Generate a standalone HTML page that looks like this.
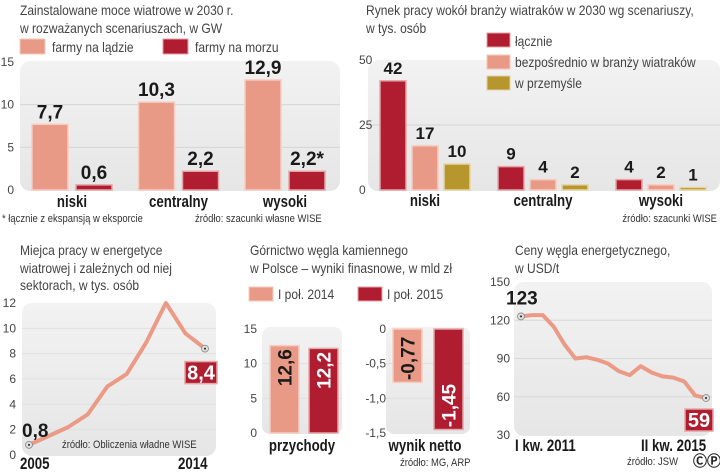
<!DOCTYPE html>
<html><head><meta charset="utf-8"><style>
body{margin:0;background:#fff;}
svg{display:block;font-family:"Liberation Sans Narrow","Liberation Sans",sans-serif;}
.t{font-size:14px;fill:#444;}
.tk{font-size:12px;fill:#444;}
.v{font-size:19px;font-weight:bold;fill:#1a1a1a;}
.c{font-size:17px;font-weight:bold;fill:#1a1a1a;}
.s{font-size:11px;fill:#333;}
</style></head><body>
<svg id="chart" width="720" height="472" viewBox="0 0 720 472" xmlns="http://www.w3.org/2000/svg">
<defs><linearGradient id="bg" x1="0" y1="0" x2="0" y2="1"><stop offset="0" stop-color="#f2f2f2"/><stop offset="1" stop-color="#e6e6e6"/></linearGradient></defs>
<g id="p1">
<text class="t" x="20" y="15">Zainstalowane moce wiatrowe  w 2030 r.</text>
<text class="t" x="20" y="33">w rozważanych scenariuszach, w GW</text>
<rect x="20" y="39" width="25" height="15" fill="#e99a86" stroke="#f5c8bc"/>
<text class="t" x="52" y="52">farmy na lądzie</text>
<rect x="163" y="39" width="25" height="15" fill="#b01c30" stroke="#e0a0a0"/>
<text class="t" x="195" y="52">farmy na morzu</text>
<rect x="20" y="61" width="320" height="130" rx="10" fill="url(#bg)"/>
<text class="s" x="2" y="222">* łącznie z ekspansją w eksporcie</text>
<text class="s" x="195" y="222">źródło: szacunki własne WISE</text>
</g>
<g id="p2">
<text class="t" x="366" y="15">Rynek pracy wokół branży wiatraków w 2030 wg scenariuszy,</text>
<text class="t" x="366" y="33">w tys. osób</text>
<rect x="368" y="60" width="352" height="131" rx="10" fill="url(#bg)"/>
<rect x="487" y="33" width="23" height="14" fill="#b01c30" stroke="#e0a0a0"/>
<text class="t" x="515" y="46">łącznie</text>
<rect x="487" y="55" width="23" height="14" fill="#e99a86" stroke="#f5c8bc"/>
<text class="t" x="515" y="67">bezpośrednio w branży wiatraków</text>
<rect x="487" y="76" width="23" height="14" fill="#b8962e" stroke="#e0d0a0"/>
<text class="t" x="515" y="88">w przemyśle</text>
<text class="s" x="717" y="222" text-anchor="end">źródło: szacunki WISE</text>
</g>
<g id="p3">
<text class="t" x="20" y="255">Miejca pracy w energetyce</text>
<text class="t" x="20" y="273">wiatrowej i zależnych od niej</text>
<text class="t" x="20" y="290">sektorach, w tys. osób</text>
<rect x="22" y="303" width="194" height="153" rx="10" fill="url(#bg)"/>
<text class="s" x="62" y="448">źródło: Obliczenia władne WISE</text>
</g>
<g id="p4">
<text class="t" x="250" y="255">Górnictwo węgla kamiennego</text>
<text class="t" x="250" y="273">w Polsce – wyniki finasnowe, w mld zł</text>
<rect x="249" y="287" width="24" height="14" fill="#e99a86" stroke="#f5c8bc"/>
<text class="t" x="278" y="299">I poł. 2014</text>
<rect x="358" y="287" width="24" height="14" fill="#b01c30" stroke="#e0a0a0"/>
<text class="t" x="387" y="299">I poł. 2015</text>
<rect x="262" y="327" width="80" height="107" rx="8" fill="url(#bg)"/>
<rect x="386" y="327" width="84" height="107" rx="8" fill="url(#bg)"/>
<text class="s" x="400" y="466">źródło: MG, ARP</text>
</g>
<g id="p5">
<text class="t" x="515" y="255">Ceny węgla energetycznego,</text>
<text class="t" x="515" y="273">w USD/t</text>
<rect x="514" y="282" width="198" height="154" rx="10" fill="url(#bg)"/>
<text class="s" x="627" y="465">źródło: JSW</text>
<text x="693" y="466" style="font-size:14px;font-weight:bold;fill:#222">ⒸⓅ</text>
</g>
</svg>
<script>
const NS="http://www.w3.org/2000/svg";
// panel 1
const capCats=["niski","centralny","wysoki"];
const capLand=[7.7,10.3,12.9];
const capSea=[0.6,2.2,2.2];
const capSeaLabels=["0,6","2,2","2,2*"];
const capLandLabels=["7,7","10,3","12,9"];
const capTicks=[0,5,10,15];
// panel 2
const jobCats=["niski","centralny","wysoki"];
const jobTotal=[42,9,4];
const jobDirect=[17,4,2];
const jobInd=[10,2,1];
const jobTicks=[0,25,50];
// panel 3
const wjYears=[2005,2006,2007,2008,2009,2010,2011,2012,2013,2014];
const wjVals=[0.8,1.5,2.2,3.2,5.4,6.4,8.9,12,9.6,8.4];
const wjTicks=[0,2,4,6,8,10,12];
// panel 4
const minCats=["przychody","wynik netto"];
const min2014=[12.6,-0.77];
const min2015=[12.2,-1.45];
const minLabels2014=["12,6","-0,77"];
const minLabels2015=["12,2","-1,45"];
const revTicks=[0,5,10,15];
const netTicks=["0","-0,5","-1,0","-1,5"];
const netTickVals=[0,-0.5,-1.0,-1.5];
// panel 5
const coalVals=[123,124,124,115,101,90,91,89,86,80,77,84,79,76,75,72,61,59];
const coalTicks=[30,60,90,120,150];

function mk(tag,attrs,parent,text){const e=document.createElementNS(NS,tag);for(const k in attrs)e.setAttribute(k,attrs[k]);if(text!==undefined)e.textContent=text;parent.appendChild(e);return e;}
const C_PINK="#e99a86",C_RED="#b01c30",C_GOLD="#b8962e";

// panel 1
(function(){
const g=document.getElementById('p1');
const y=v=>190-v*(128/15);
capTicks.forEach((t,i)=>{
 if(t>0&&t<15){const l=mk('line',{x1:20,x2:340,y1:y(t),y2:y(t),stroke:'#d4d4d4'},g);}
 const e=mk('text',{x:14,y:y(t)+4,'text-anchor':'end',class:'tk'},g,String(t));
 
});
capCats.forEach((c,i)=>{
 const x0=32+i*106.5;
 const b1=mk('rect',{x:x0,y:y(capLand[i]),width:36,height:190-y(capLand[i]),fill:C_PINK,stroke:'#f6cdc2','stroke-width':1.5},g);
 
 const b2=mk('rect',{x:x0+44,y:y(capSea[i]),width:36,height:190-y(capSea[i]),fill:C_RED,stroke:'#e3a7a7','stroke-width':1.5},g);
 
 const t1=mk('text',{x:x0+18,y:y(capLand[i])-6,'text-anchor':'middle',class:'v'},g,capLandLabels[i]);
 
 const t2=mk('text',{x:x0+62,y:y(capSea[i])-6,'text-anchor':'middle',class:'v'},g,capSeaLabels[i]);
 
 const cl=mk('text',{x:x0+40,y:207,'text-anchor':'middle',class:'c'},g,c);
 
});
})();

// panel 2
(function(){
const g=document.getElementById('p2');
const y=v=>190-v*2.6;
jobTicks.forEach(t=>{
 if(t===25){const l=mk('line',{x1:368,x2:720,y1:y(t),y2:y(t),stroke:'#d4d4d4'},g);}
 const e=mk('text',{x:359,y:y(t)+4,class:'tk'},g,String(t));
 
});
const series=[[jobTotal,C_RED,'#e3a7a7','total'],[jobDirect,C_PINK,'#f6cdc2','direct'],[jobInd,C_GOLD,'#e6d6a6','industry']];
jobCats.forEach((c,i)=>{
 const x0=380+i*118;
 series.forEach((s,j)=>{
  const v=s[0][i],x=x0+j*32;
  const b=mk('rect',{x:x,y:y(v),width:26,height:Math.max(190-y(v),2),fill:s[1],stroke:s[2],'stroke-width':1.5},g);
  
  const t=mk('text',{x:x+13,y:y(v)-7,'text-anchor':'middle',class:'v',style:'font-size:17px'},g,String(v));
  
 });
 const cl=mk('text',{x:x0+45,y:206,'text-anchor':'middle',class:'c'},g,c);
 
});
})();

// panel 3
(function(){
const g=document.getElementById('p3');
const y=v=>455-v*(152/12);
const x=i=>29+i*((205-29)/(wjYears.length-1));
wjTicks.forEach(t=>{
 if(t>0&&t<12){const l=mk('line',{x1:22,x2:216,y1:y(t),y2:y(t),stroke:'#e0e0e0'},g);}
 const e=mk('text',{x:16,y:y(t)+4,'text-anchor':'end',class:'tk'},g,String(t));
 
});
const pts=wjVals.map((v,i)=>x(i)+','+y(v)).join(' ');
const pl=mk('polyline',{points:pts,fill:'none',stroke:'#eb9a85','stroke-width':4,'stroke-linejoin':'round'},g);

[0,wjVals.length-1].forEach(i=>{
 const d=mk('circle',{cx:x(i),cy:y(wjVals[i]),r:3.5,fill:'#ddd',stroke:'#888','stroke-width':0.8},g);
 
 mk('circle',{cx:x(i),cy:y(wjVals[i]),r:1,fill:'#222'},g);
});
const l0=mk('text',{x:22,y:y(wjVals[0])-8,class:'v'},g,'0,8');

const lastY=y(wjVals[wjVals.length-1]);
const bx=mk('rect',{x:185,y:lastY+13,width:32,height:22,fill:C_RED,stroke:'#e3a7a7','stroke-width':1.5},g);

const le=mk('text',{x:201,y:lastY+31,'text-anchor':'middle',class:'v',style:'fill:#fff;font-size:20px'},g,'8,4');

const a=mk('text',{x:20,y:469,class:'c'},g,String(wjYears[0]));
const b=mk('text',{x:178,y:469,class:'c'},g,String(wjYears[wjYears.length-1]));
})();

// panel 4
(function(){
const g=document.getElementById('p4');
const yr=v=>433-v*(104/15);
const yn=v=>329-v*(104/1.5);
revTicks.forEach(t=>{
 if(t>0&&t<15){const l=mk('line',{x1:262,x2:342,y1:yr(t),y2:yr(t),stroke:'#e0e0e0'},g);}
 const e=mk('text',{x:257,y:yr(t)+4,'text-anchor':'end',class:'tk'},g,String(t));
 
});
netTickVals.forEach((t,i)=>{
 if(t<0&&t>-1.5){const l=mk('line',{x1:386,x2:470,y1:yn(t),y2:yn(t),stroke:'#e0e0e0'},g);}
 const e=mk('text',{x:386,y:yn(t)+4,'text-anchor':'end',class:'tk'},g,netTicks[i]);
 
});
[[min2014[0],C_PINK,'#f6cdc2',270,minLabels2014[0],'#1a1a1a'],[min2015[0],C_RED,'#e3a7a7',309,minLabels2015[0],'#fff']].forEach((s,j)=>{
 const b=mk('rect',{x:s[3],y:yr(s[0]),width:29,height:433-yr(s[0]),fill:s[1],stroke:s[2],'stroke-width':1.5},g);
 
 const cx=s[3]+14.5,cy=yr(s[0])+22;
 const t=mk('text',{x:cx+7,y:cy,'text-anchor':'middle',class:'v',transform:'rotate(-90 '+(cx+7)+' '+cy+')',style:'fill:'+s[5]},g,s[4]);
 
});
[[min2014[1],C_PINK,'#f6cdc2',393,minLabels2014[1],'#1a1a1a'],[min2015[1],C_RED,'#e3a7a7',434,minLabels2015[1],'#fff']].forEach((s,j)=>{
 const b=mk('rect',{x:s[3],y:yn(0),width:29,height:yn(s[0])-yn(0),fill:s[1],stroke:s[2],'stroke-width':1.5},g);
 
 const cx=s[3]+14.5,cy=yn(s[0])-24;
 const t=mk('text',{x:cx+7,y:cy,'text-anchor':'middle',class:'v',transform:'rotate(-90 '+(cx+7)+' '+cy+')',style:'fill:'+s[5]},g,s[4]);
 
});
const c1=mk('text',{x:302,y:451,'text-anchor':'middle',class:'c'},g,minCats[0]);
const c2=mk('text',{x:425,y:451,'text-anchor':'middle',class:'c'},g,minCats[1]);
})();

// panel 5
(function(){
const g=document.getElementById('p5');
const y=v=>435-(v-30)*(153/120);
const x=i=>521+i*((706-521)/(coalVals.length-1));
coalTicks.forEach(t=>{
 if(t>30&&t<150){const l=mk('line',{x1:514,x2:712,y1:y(t),y2:y(t),stroke:'#d8d8d8'},g);}
 const e=mk('text',{x:510,y:y(t)+4,'text-anchor':'end',class:'tk'},g,String(t));
 
});
const pts=coalVals.map((v,i)=>x(i)+','+y(v)).join(' ');
const pl=mk('polyline',{points:pts,fill:'none',stroke:'#eb9a85','stroke-width':4,'stroke-linejoin':'round'},g);

[0,coalVals.length-1].forEach(i=>{
 const d=mk('circle',{cx:x(i),cy:y(coalVals[i]),r:3.5,fill:'#ddd',stroke:'#888','stroke-width':0.8},g);
 
 mk('circle',{cx:x(i),cy:y(coalVals[i]),r:1,fill:'#222'},g);
});
const l0=mk('text',{x:506,y:y(coalVals[0])-12,class:'v'},g,String(coalVals[0]));

const ly=y(coalVals[coalVals.length-1]);
const bx=mk('rect',{x:685,y:ly+11,width:28,height:22,fill:C_RED,stroke:'#e3a7a7','stroke-width':1.5},g);

const le=mk('text',{x:699,y:ly+29,'text-anchor':'middle',class:'v',style:'fill:#fff;font-size:20px'},g,String(coalVals[coalVals.length-1]));

const a=mk('text',{x:515,y:451,class:'c'},g,'I kw. 2011');
const b=mk('text',{x:641,y:451,class:'c'},g,'II kw. 2015');
})();

// condense text to emulate a narrow typeface
document.querySelectorAll('text.t, text.s, text.c').forEach(el=>{
 const f=el.classList.contains('c')?0.78:0.86;
 const w=el.getComputedTextLength();
 el.setAttribute('textLength',(w*f).toFixed(1));
 el.setAttribute('lengthAdjust','spacingAndGlyphs');
});
</script>
</body></html>
